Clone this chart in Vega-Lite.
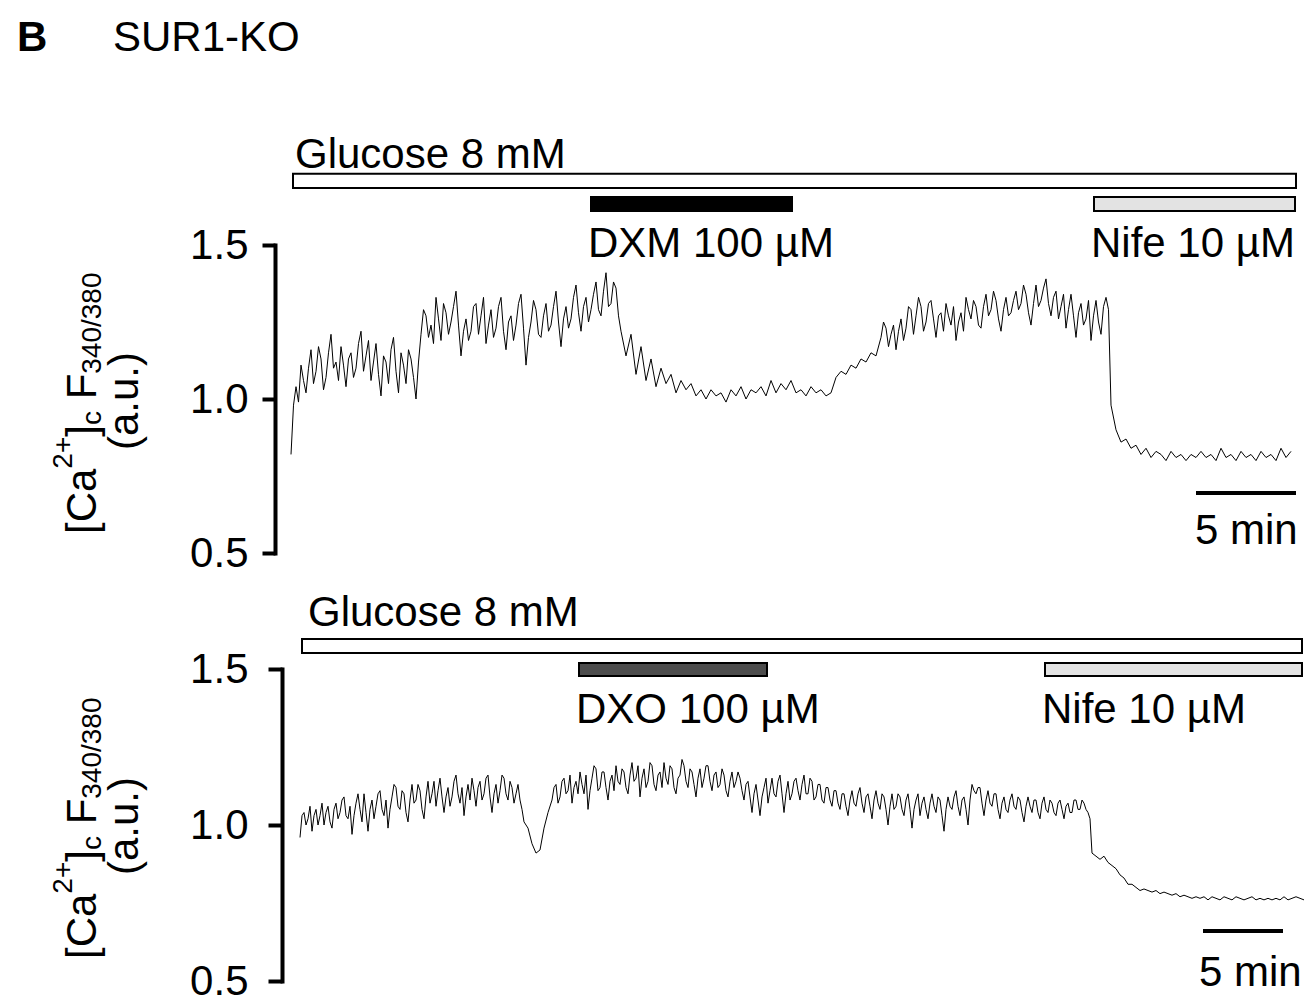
{
"$schema": "https://vega.github.io/schema/vega-lite/v6.json",
"background": "white",
"autosize": {"type": "pad"},
"padding": {"left": 17, "top": 16, "right": 0, "bottom": 0},
"spacing": 18,
"config": {"view": {"stroke": null}, "text": {"font": "Liberation Sans", "fontSize": 42, "fill": "black"},
 "axisY": {"grid": false, "title": null, "domainColor": "black", "domainWidth": 4, "domainCap": "square", "tickColor": "black", "tickWidth": 4, "labelFont": "Liberation Sans", "labelFontSize": 42, "labelColor": "black", "labelFlush": false, "labelOverlap": false}},
"datasets": {
"top_trace": [{"t":0,"v":0.82},{"t":0.125,"v":0.98},{"t":0.25,"v":1.04},{"t":0.375,"v":0.99},{"t":0.5,"v":1.11},{"t":0.625,"v":1.06},{"t":0.75,"v":1.02},{"t":0.875,"v":1.1},{"t":1,"v":1.16},{"t":1.125,"v":1.05},{"t":1.25,"v":1.09},{"t":1.375,"v":1.17},{"t":1.5,"v":1.13},{"t":1.625,"v":1.03},{"t":1.75,"v":1.07},{"t":1.875,"v":1.15},{"t":2,"v":1.21},{"t":2.125,"v":1.1},{"t":2.25,"v":1.12},{"t":2.375,"v":1.06},{"t":2.5,"v":1.17},{"t":2.625,"v":1.11},{"t":2.75,"v":1.04},{"t":2.875,"v":1.13},{"t":3,"v":1.15},{"t":3.125,"v":1.07},{"t":3.25,"v":1.1},{"t":3.375,"v":1.18},{"t":3.5,"v":1.22},{"t":3.625,"v":1.09},{"t":3.75,"v":1.14},{"t":3.875,"v":1.19},{"t":4,"v":1.06},{"t":4.125,"v":1.12},{"t":4.25,"v":1.18},{"t":4.375,"v":1.08},{"t":4.5,"v":1.01},{"t":4.625,"v":1.14},{"t":4.75,"v":1.12},{"t":4.875,"v":1.05},{"t":5,"v":1.16},{"t":5.125,"v":1.2},{"t":5.25,"v":1.09},{"t":5.375,"v":1.02},{"t":5.5,"v":1.15},{"t":5.625,"v":1.11},{"t":5.75,"v":1.05},{"t":5.875,"v":1.16},{"t":6,"v":1.13},{"t":6.125,"v":1.07},{"t":6.25,"v":1.0},{"t":6.375,"v":1.12},{"t":6.5,"v":1.21},{"t":6.625,"v":1.29},{"t":6.75,"v":1.27},{"t":6.875,"v":1.2},{"t":7,"v":1.24},{"t":7.125,"v":1.18},{"t":7.25,"v":1.33},{"t":7.375,"v":1.26},{"t":7.5,"v":1.19},{"t":7.625,"v":1.31},{"t":7.75,"v":1.28},{"t":7.875,"v":1.21},{"t":8,"v":1.25},{"t":8.125,"v":1.3},{"t":8.25,"v":1.35},{"t":8.375,"v":1.24},{"t":8.5,"v":1.14},{"t":8.625,"v":1.22},{"t":8.75,"v":1.26},{"t":8.875,"v":1.19},{"t":9,"v":1.22},{"t":9.125,"v":1.3},{"t":9.25,"v":1.31},{"t":9.375,"v":1.21},{"t":9.5,"v":1.27},{"t":9.625,"v":1.33},{"t":9.75,"v":1.18},{"t":9.875,"v":1.24},{"t":10,"v":1.29},{"t":10.125,"v":1.2},{"t":10.25,"v":1.23},{"t":10.375,"v":1.3},{"t":10.5,"v":1.33},{"t":10.625,"v":1.22},{"t":10.75,"v":1.16},{"t":10.875,"v":1.25},{"t":11,"v":1.27},{"t":11.125,"v":1.19},{"t":11.25,"v":1.24},{"t":11.375,"v":1.31},{"t":11.5,"v":1.34},{"t":11.625,"v":1.23},{"t":11.75,"v":1.11},{"t":11.875,"v":1.2},{"t":12,"v":1.25},{"t":12.125,"v":1.32},{"t":12.25,"v":1.29},{"t":12.375,"v":1.21},{"t":12.5,"v":1.2},{"t":12.625,"v":1.27},{"t":12.75,"v":1.31},{"t":12.875,"v":1.22},{"t":13,"v":1.24},{"t":13.125,"v":1.3},{"t":13.25,"v":1.35},{"t":13.375,"v":1.25},{"t":13.5,"v":1.17},{"t":13.625,"v":1.26},{"t":13.75,"v":1.3},{"t":13.875,"v":1.23},{"t":14,"v":1.26},{"t":14.125,"v":1.33},{"t":14.25,"v":1.37},{"t":14.375,"v":1.28},{"t":14.5,"v":1.22},{"t":14.625,"v":1.3},{"t":14.75,"v":1.33},{"t":14.875,"v":1.25},{"t":15,"v":1.29},{"t":15.125,"v":1.34},{"t":15.25,"v":1.38},{"t":15.375,"v":1.29},{"t":15.5,"v":1.27},{"t":15.625,"v":1.35},{"t":15.75,"v":1.41},{"t":15.875,"v":1.3},{"t":16,"v":1.31},{"t":16.125,"v":1.38},{"t":16.25,"v":1.36},{"t":16.375,"v":1.27},{"t":16.5,"v":1.22},{"t":16.75,"v":1.14},{"t":17,"v":1.21},{"t":17.25,"v":1.08},{"t":17.5,"v":1.17},{"t":17.75,"v":1.06},{"t":18,"v":1.13},{"t":18.25,"v":1.04},{"t":18.5,"v":1.1},{"t":18.75,"v":1.05},{"t":19,"v":1.08},{"t":19.25,"v":1.02},{"t":19.5,"v":1.06},{"t":19.75,"v":1.03},{"t":20,"v":1.05},{"t":20.25,"v":1.01},{"t":20.5,"v":1.03},{"t":20.75,"v":1.0},{"t":21,"v":1.03},{"t":21.25,"v":1.01},{"t":21.5,"v":1.02},{"t":21.75,"v":0.99},{"t":22,"v":1.03},{"t":22.25,"v":1.01},{"t":22.5,"v":1.04},{"t":22.75,"v":1.0},{"t":23,"v":1.03},{"t":23.25,"v":1.02},{"t":23.5,"v":1.04},{"t":23.75,"v":1.01},{"t":24,"v":1.06},{"t":24.25,"v":1.02},{"t":24.5,"v":1.05},{"t":24.75,"v":1.03},{"t":25,"v":1.06},{"t":25.25,"v":1.02},{"t":25.5,"v":1.03},{"t":25.75,"v":1.01},{"t":26,"v":1.04},{"t":26.25,"v":1.02},{"t":26.5,"v":1.03},{"t":26.75,"v":1.01},{"t":27,"v":1.02},{"t":27.25,"v":1.07},{"t":27.5,"v":1.09},{"t":27.75,"v":1.08},{"t":28,"v":1.11},{"t":28.25,"v":1.1},{"t":28.5,"v":1.13},{"t":28.75,"v":1.12},{"t":29,"v":1.15},{"t":29.25,"v":1.14},{"t":29.5,"v":1.2},{"t":29.625,"v":1.25},{"t":29.75,"v":1.23},{"t":29.875,"v":1.17},{"t":30,"v":1.21},{"t":30.125,"v":1.24},{"t":30.25,"v":1.16},{"t":30.375,"v":1.22},{"t":30.5,"v":1.26},{"t":30.625,"v":1.19},{"t":30.75,"v":1.23},{"t":30.875,"v":1.3},{"t":31,"v":1.29},{"t":31.125,"v":1.21},{"t":31.25,"v":1.27},{"t":31.375,"v":1.33},{"t":31.5,"v":1.3},{"t":31.625,"v":1.22},{"t":31.75,"v":1.25},{"t":31.875,"v":1.31},{"t":32,"v":1.32},{"t":32.125,"v":1.26},{"t":32.25,"v":1.2},{"t":32.375,"v":1.27},{"t":32.5,"v":1.28},{"t":32.625,"v":1.22},{"t":32.75,"v":1.31},{"t":32.875,"v":1.27},{"t":33,"v":1.24},{"t":33.125,"v":1.3},{"t":33.25,"v":1.19},{"t":33.375,"v":1.25},{"t":33.5,"v":1.28},{"t":33.625,"v":1.22},{"t":33.75,"v":1.33},{"t":33.875,"v":1.29},{"t":34,"v":1.26},{"t":34.125,"v":1.32},{"t":34.25,"v":1.3},{"t":34.375,"v":1.24},{"t":34.5,"v":1.23},{"t":34.625,"v":1.3},{"t":34.75,"v":1.34},{"t":34.875,"v":1.27},{"t":35,"v":1.29},{"t":35.125,"v":1.35},{"t":35.25,"v":1.32},{"t":35.375,"v":1.26},{"t":35.5,"v":1.22},{"t":35.625,"v":1.29},{"t":35.75,"v":1.33},{"t":35.875,"v":1.27},{"t":36,"v":1.28},{"t":36.125,"v":1.32},{"t":36.25,"v":1.35},{"t":36.375,"v":1.29},{"t":36.5,"v":1.31},{"t":36.625,"v":1.37},{"t":36.75,"v":1.34},{"t":36.875,"v":1.28},{"t":37,"v":1.24},{"t":37.125,"v":1.31},{"t":37.25,"v":1.37},{"t":37.375,"v":1.3},{"t":37.5,"v":1.32},{"t":37.625,"v":1.36},{"t":37.75,"v":1.39},{"t":37.875,"v":1.31},{"t":38,"v":1.27},{"t":38.125,"v":1.33},{"t":38.25,"v":1.35},{"t":38.375,"v":1.26},{"t":38.5,"v":1.3},{"t":38.625,"v":1.34},{"t":38.75,"v":1.23},{"t":38.875,"v":1.29},{"t":39,"v":1.34},{"t":39.125,"v":1.27},{"t":39.25,"v":1.2},{"t":39.375,"v":1.28},{"t":39.5,"v":1.31},{"t":39.625,"v":1.24},{"t":39.75,"v":1.26},{"t":39.875,"v":1.32},{"t":40,"v":1.19},{"t":40.125,"v":1.27},{"t":40.25,"v":1.32},{"t":40.375,"v":1.25},{"t":40.5,"v":1.21},{"t":40.625,"v":1.3},{"t":40.75,"v":1.33},{"t":40.875,"v":1.29},{"t":41,"v":0.98},{"t":41.25,"v":0.9},{"t":41.5,"v":0.86},{"t":41.75,"v":0.87},{"t":42,"v":0.84},{"t":42.25,"v":0.85},{"t":42.5,"v":0.82},{"t":42.75,"v":0.84},{"t":43,"v":0.81},{"t":43.25,"v":0.83},{"t":43.5,"v":0.82},{"t":43.75,"v":0.8},{"t":44,"v":0.83},{"t":44.25,"v":0.81},{"t":44.5,"v":0.82},{"t":44.75,"v":0.8},{"t":45,"v":0.82},{"t":45.25,"v":0.81},{"t":45.5,"v":0.83},{"t":45.75,"v":0.81},{"t":46,"v":0.82},{"t":46.25,"v":0.8},{"t":46.5,"v":0.84},{"t":46.75,"v":0.81},{"t":47,"v":0.82},{"t":47.25,"v":0.8},{"t":47.5,"v":0.83},{"t":47.75,"v":0.81},{"t":48,"v":0.82},{"t":48.25,"v":0.8},{"t":48.5,"v":0.83},{"t":48.75,"v":0.81},{"t":49,"v":0.82},{"t":49.25,"v":0.8},{"t":49.5,"v":0.84},{"t":49.75,"v":0.81},{"t":50,"v":0.83}],
"bottom_trace": [{"t":0,"v":0.96},{"t":0.125,"v":1.03},{"t":0.25,"v":1.04},{"t":0.375,"v":1.0},{"t":0.5,"v":1.02},{"t":0.625,"v":1.06},{"t":0.75,"v":0.98},{"t":0.875,"v":1.03},{"t":1,"v":1.05},{"t":1.125,"v":1.0},{"t":1.25,"v":1.03},{"t":1.375,"v":1.07},{"t":1.5,"v":1.0},{"t":1.625,"v":1.04},{"t":1.75,"v":1.06},{"t":1.875,"v":1.01},{"t":2,"v":0.99},{"t":2.125,"v":1.05},{"t":2.25,"v":1.07},{"t":2.375,"v":1.02},{"t":2.5,"v":1.04},{"t":2.625,"v":1.08},{"t":2.75,"v":1.09},{"t":2.875,"v":1.03},{"t":3,"v":1.02},{"t":3.125,"v":1.06},{"t":3.25,"v":0.97},{"t":3.375,"v":1.03},{"t":3.5,"v":1.07},{"t":3.625,"v":1.1},{"t":3.75,"v":1.05},{"t":3.875,"v":1.01},{"t":4,"v":1.1},{"t":4.125,"v":1.04},{"t":4.25,"v":0.98},{"t":4.375,"v":1.05},{"t":4.5,"v":1.08},{"t":4.625,"v":1.02},{"t":4.75,"v":1.06},{"t":4.875,"v":1.1},{"t":5,"v":1.11},{"t":5.125,"v":1.05},{"t":5.25,"v":1.03},{"t":5.375,"v":1.08},{"t":5.5,"v":0.99},{"t":5.625,"v":1.05},{"t":5.75,"v":1.09},{"t":5.875,"v":1.13},{"t":6,"v":1.12},{"t":6.125,"v":1.06},{"t":6.25,"v":1.05},{"t":6.375,"v":1.11},{"t":6.5,"v":1.1},{"t":6.625,"v":1.04},{"t":6.75,"v":1.01},{"t":6.875,"v":1.08},{"t":7,"v":1.13},{"t":7.125,"v":1.07},{"t":7.25,"v":1.08},{"t":7.375,"v":1.13},{"t":7.5,"v":1.11},{"t":7.625,"v":1.05},{"t":7.75,"v":1.02},{"t":7.875,"v":1.09},{"t":8,"v":1.14},{"t":8.125,"v":1.07},{"t":8.25,"v":1.1},{"t":8.375,"v":1.14},{"t":8.5,"v":1.06},{"t":8.625,"v":1.11},{"t":8.75,"v":1.15},{"t":8.875,"v":1.09},{"t":9,"v":1.04},{"t":9.125,"v":1.09},{"t":9.25,"v":1.12},{"t":9.375,"v":1.06},{"t":9.5,"v":1.09},{"t":9.625,"v":1.14},{"t":9.75,"v":1.16},{"t":9.875,"v":1.1},{"t":10,"v":1.07},{"t":10.125,"v":1.12},{"t":10.25,"v":1.03},{"t":10.375,"v":1.09},{"t":10.5,"v":1.13},{"t":10.625,"v":1.08},{"t":10.75,"v":1.15},{"t":10.875,"v":1.11},{"t":11,"v":1.06},{"t":11.125,"v":1.12},{"t":11.25,"v":1.14},{"t":11.375,"v":1.08},{"t":11.5,"v":1.1},{"t":11.625,"v":1.15},{"t":11.75,"v":1.16},{"t":11.875,"v":1.09},{"t":12,"v":1.04},{"t":12.125,"v":1.1},{"t":12.25,"v":1.13},{"t":12.375,"v":1.07},{"t":12.5,"v":1.11},{"t":12.625,"v":1.16},{"t":12.75,"v":1.15},{"t":12.875,"v":1.1},{"t":13,"v":1.08},{"t":13.125,"v":1.14},{"t":13.25,"v":1.12},{"t":13.375,"v":1.07},{"t":13.5,"v":1.1},{"t":13.625,"v":1.13},{"t":13.75,"v":1.08},{"t":13.875,"v":1.05},{"t":14,"v":1.01},{"t":14.25,"v":0.99},{"t":14.5,"v":0.94},{"t":14.75,"v":0.91},{"t":15,"v":0.92},{"t":15.25,"v":0.99},{"t":15.5,"v":1.04},{"t":15.75,"v":1.08},{"t":15.875,"v":1.12},{"t":16,"v":1.13},{"t":16.125,"v":1.07},{"t":16.25,"v":1.09},{"t":16.375,"v":1.14},{"t":16.5,"v":1.15},{"t":16.625,"v":1.1},{"t":16.75,"v":1.11},{"t":16.875,"v":1.16},{"t":17,"v":1.07},{"t":17.125,"v":1.12},{"t":17.25,"v":1.14},{"t":17.375,"v":1.1},{"t":17.5,"v":1.17},{"t":17.625,"v":1.13},{"t":17.75,"v":1.1},{"t":17.875,"v":1.16},{"t":18,"v":1.05},{"t":18.125,"v":1.11},{"t":18.25,"v":1.15},{"t":18.375,"v":1.19},{"t":18.5,"v":1.18},{"t":18.625,"v":1.11},{"t":18.75,"v":1.12},{"t":18.875,"v":1.17},{"t":19,"v":1.17},{"t":19.125,"v":1.12},{"t":19.25,"v":1.08},{"t":19.375,"v":1.14},{"t":19.5,"v":1.16},{"t":19.625,"v":1.11},{"t":19.75,"v":1.19},{"t":19.875,"v":1.14},{"t":20,"v":1.13},{"t":20.125,"v":1.18},{"t":20.25,"v":1.17},{"t":20.375,"v":1.12},{"t":20.5,"v":1.1},{"t":20.625,"v":1.16},{"t":20.75,"v":1.2},{"t":20.875,"v":1.14},{"t":21,"v":1.15},{"t":21.125,"v":1.19},{"t":21.25,"v":1.09},{"t":21.375,"v":1.15},{"t":21.5,"v":1.18},{"t":21.625,"v":1.12},{"t":21.75,"v":1.14},{"t":21.875,"v":1.2},{"t":22,"v":1.19},{"t":22.125,"v":1.13},{"t":22.25,"v":1.11},{"t":22.375,"v":1.16},{"t":22.5,"v":1.17},{"t":22.625,"v":1.12},{"t":22.75,"v":1.2},{"t":22.875,"v":1.15},{"t":23,"v":1.13},{"t":23.125,"v":1.19},{"t":23.25,"v":1.18},{"t":23.375,"v":1.12},{"t":23.5,"v":1.1},{"t":23.625,"v":1.15},{"t":23.75,"v":1.16},{"t":23.875,"v":1.21},{"t":24,"v":1.19},{"t":24.125,"v":1.14},{"t":24.25,"v":1.12},{"t":24.375,"v":1.18},{"t":24.5,"v":1.17},{"t":24.625,"v":1.13},{"t":24.75,"v":1.09},{"t":24.875,"v":1.15},{"t":25,"v":1.18},{"t":25.125,"v":1.12},{"t":25.25,"v":1.15},{"t":25.375,"v":1.19},{"t":25.5,"v":1.19},{"t":25.625,"v":1.14},{"t":25.75,"v":1.11},{"t":25.875,"v":1.16},{"t":26,"v":1.17},{"t":26.125,"v":1.12},{"t":26.25,"v":1.13},{"t":26.375,"v":1.18},{"t":26.5,"v":1.16},{"t":26.625,"v":1.11},{"t":26.75,"v":1.09},{"t":26.875,"v":1.14},{"t":27,"v":1.17},{"t":27.125,"v":1.12},{"t":27.25,"v":1.14},{"t":27.375,"v":1.17},{"t":27.5,"v":1.15},{"t":27.625,"v":1.11},{"t":27.75,"v":1.08},{"t":27.875,"v":1.13},{"t":28,"v":1.14},{"t":28.125,"v":1.09},{"t":28.25,"v":1.04},{"t":28.375,"v":1.1},{"t":28.5,"v":1.13},{"t":28.625,"v":1.08},{"t":28.75,"v":1.03},{"t":28.875,"v":1.09},{"t":29,"v":1.12},{"t":29.125,"v":1.15},{"t":29.25,"v":1.07},{"t":29.375,"v":1.11},{"t":29.5,"v":1.15},{"t":29.625,"v":1.1},{"t":29.75,"v":1.09},{"t":29.875,"v":1.14},{"t":30,"v":1.16},{"t":30.125,"v":1.1},{"t":30.25,"v":1.04},{"t":30.375,"v":1.1},{"t":30.5,"v":1.14},{"t":30.625,"v":1.08},{"t":30.75,"v":1.1},{"t":30.875,"v":1.14},{"t":31,"v":1.15},{"t":31.125,"v":1.11},{"t":31.25,"v":1.08},{"t":31.375,"v":1.13},{"t":31.5,"v":1.16},{"t":31.625,"v":1.1},{"t":31.75,"v":1.1},{"t":31.875,"v":1.15},{"t":32,"v":1.14},{"t":32.125,"v":1.08},{"t":32.25,"v":1.09},{"t":32.375,"v":1.13},{"t":32.5,"v":1.13},{"t":32.625,"v":1.08},{"t":32.75,"v":1.07},{"t":32.875,"v":1.12},{"t":33,"v":1.12},{"t":33.125,"v":1.08},{"t":33.25,"v":1.06},{"t":33.375,"v":1.11},{"t":33.5,"v":1.11},{"t":33.625,"v":1.07},{"t":33.75,"v":1.05},{"t":33.875,"v":1.1},{"t":34,"v":1.1},{"t":34.125,"v":1.06},{"t":34.25,"v":1.03},{"t":34.375,"v":1.08},{"t":34.5,"v":1.11},{"t":34.625,"v":1.07},{"t":34.75,"v":1.06},{"t":34.875,"v":1.1},{"t":35,"v":1.12},{"t":35.125,"v":1.07},{"t":35.25,"v":1.04},{"t":35.375,"v":1.09},{"t":35.5,"v":1.1},{"t":35.625,"v":1.06},{"t":35.75,"v":1.02},{"t":35.875,"v":1.08},{"t":36,"v":1.11},{"t":36.125,"v":1.07},{"t":36.25,"v":1.05},{"t":36.375,"v":1.1},{"t":36.5,"v":1.09},{"t":36.625,"v":1.05},{"t":36.75,"v":1.0},{"t":36.875,"v":1.06},{"t":37,"v":1.1},{"t":37.125,"v":1.05},{"t":37.25,"v":1.06},{"t":37.375,"v":1.1},{"t":37.5,"v":1.09},{"t":37.625,"v":1.05},{"t":37.75,"v":1.03},{"t":37.875,"v":1.08},{"t":38,"v":1.1},{"t":38.125,"v":1.05},{"t":38.25,"v":0.99},{"t":38.375,"v":1.05},{"t":38.5,"v":1.08},{"t":38.625,"v":1.1},{"t":38.75,"v":1.03},{"t":38.875,"v":1.07},{"t":39,"v":1.09},{"t":39.125,"v":1.05},{"t":39.25,"v":1.02},{"t":39.375,"v":1.07},{"t":39.5,"v":1.1},{"t":39.625,"v":1.06},{"t":39.75,"v":1.04},{"t":39.875,"v":1.09},{"t":40,"v":1.08},{"t":40.125,"v":1.03},{"t":40.25,"v":0.98},{"t":40.375,"v":1.05},{"t":40.5,"v":1.09},{"t":40.625,"v":1.06},{"t":40.75,"v":1.05},{"t":40.875,"v":1.09},{"t":41,"v":1.11},{"t":41.125,"v":1.06},{"t":41.25,"v":1.03},{"t":41.375,"v":1.08},{"t":41.5,"v":1.09},{"t":41.625,"v":1.05},{"t":41.75,"v":1.0},{"t":41.875,"v":1.08},{"t":42,"v":1.13},{"t":42.125,"v":1.11},{"t":42.25,"v":1.1},{"t":42.375,"v":1.12},{"t":42.5,"v":1.12},{"t":42.625,"v":1.07},{"t":42.75,"v":1.03},{"t":42.875,"v":1.08},{"t":43,"v":1.11},{"t":43.125,"v":1.07},{"t":43.25,"v":1.06},{"t":43.375,"v":1.1},{"t":43.5,"v":1.1},{"t":43.625,"v":1.05},{"t":43.75,"v":1.02},{"t":43.875,"v":1.07},{"t":44,"v":1.09},{"t":44.125,"v":1.05},{"t":44.25,"v":1.04},{"t":44.375,"v":1.08},{"t":44.5,"v":1.1},{"t":44.625,"v":1.06},{"t":44.75,"v":1.05},{"t":44.875,"v":1.09},{"t":45,"v":1.08},{"t":45.125,"v":1.04},{"t":45.25,"v":1.01},{"t":45.375,"v":1.06},{"t":45.5,"v":1.09},{"t":45.625,"v":1.06},{"t":45.75,"v":1.04},{"t":45.875,"v":1.08},{"t":46,"v":1.08},{"t":46.125,"v":1.04},{"t":46.25,"v":1.02},{"t":46.375,"v":1.07},{"t":46.5,"v":1.09},{"t":46.625,"v":1.05},{"t":46.75,"v":1.04},{"t":46.875,"v":1.08},{"t":47,"v":1.07},{"t":47.125,"v":1.04},{"t":47.25,"v":1.03},{"t":47.375,"v":1.07},{"t":47.5,"v":1.08},{"t":47.625,"v":1.05},{"t":47.75,"v":1.02},{"t":47.875,"v":1.06},{"t":48,"v":1.07},{"t":48.125,"v":1.04},{"t":48.25,"v":1.04},{"t":48.375,"v":1.08},{"t":48.5,"v":1.08},{"t":48.625,"v":1.05},{"t":48.75,"v":1.05},{"t":48.875,"v":1.08},{"t":49,"v":1.07},{"t":49.125,"v":1.05},{"t":49.25,"v":1.04},{"t":49.375,"v":1.02},{"t":49.5,"v":0.91},{"t":49.75,"v":0.9},{"t":50,"v":0.89},{"t":50.25,"v":0.9},{"t":50.5,"v":0.88},{"t":50.75,"v":0.87},{"t":51,"v":0.86},{"t":51.25,"v":0.84},{"t":51.5,"v":0.83},{"t":51.75,"v":0.81},{"t":52,"v":0.81},{"t":52.25,"v":0.8},{"t":52.5,"v":0.79},{"t":52.75,"v":0.795},{"t":53,"v":0.79},{"t":53.25,"v":0.785},{"t":53.5,"v":0.79},{"t":53.75,"v":0.78},{"t":54,"v":0.785},{"t":54.25,"v":0.78},{"t":54.5,"v":0.775},{"t":54.75,"v":0.78},{"t":55,"v":0.77},{"t":55.25,"v":0.775},{"t":55.5,"v":0.77},{"t":55.75,"v":0.765},{"t":56,"v":0.77},{"t":56.25,"v":0.765},{"t":56.5,"v":0.77},{"t":56.75,"v":0.76},{"t":57,"v":0.77},{"t":57.25,"v":0.765},{"t":57.5,"v":0.76},{"t":57.75,"v":0.77},{"t":58,"v":0.765},{"t":58.25,"v":0.76},{"t":58.5,"v":0.77},{"t":58.75,"v":0.765},{"t":59,"v":0.76},{"t":59.25,"v":0.765},{"t":59.5,"v":0.77},{"t":59.75,"v":0.76},{"t":60,"v":0.765},{"t":60.25,"v":0.76},{"t":60.5,"v":0.765},{"t":60.75,"v":0.76},{"t":61,"v":0.765},{"t":61.25,"v":0.76},{"t":61.5,"v":0.77},{"t":61.75,"v":0.76},{"t":62,"v":0.765},{"t":62.25,"v":0.77},{"t":62.5,"v":0.765},{"t":62.75,"v":0.76}],
"top_glucose": [{"agent": "Glucose 8 mM", "start": 0.1, "end": 50.25}],
"top_drugs": [{"agent": "DXM 100 µM", "start": 15.0, "end": 25.05}, {"agent": "Nife 10 µM", "start": 40.15, "end": 50.2}],
"top_scale": [{"label": "5 min", "start": 45.25, "end": 50.25}],
"bottom_glucose": [{"agent": "Glucose 8 mM", "start": 0.125, "end": 62.625}],
"bottom_drugs": [{"agent": "DXO 100 µM", "start": 17.4375, "end": 29.1875}, {"agent": "Nife 10 µM", "start": 46.5625, "end": 62.625}],
"bottom_scale": [{"label": "5 min", "start": 56.4375, "end": 61.4375}],
"heading": [{"panel": "B", "genotype": "SUR1-KO"}],
"ylabel": [{"measure": "[Ca2+]c F340/380", "unit": "(a.u.)"}]
},
"vconcat": [
{
"width": 1006, "height": 308,
"layer": [
{"data": {"name": "top_trace"}, "mark": {"type": "line", "stroke": "black", "strokeWidth": 1},
 "encoding": {
  "x": {"field": "t", "type": "quantitative", "scale": {"domain": [0, 50.3], "nice": false, "zero": false}, "axis": null},
  "y": {"field": "v", "type": "quantitative", "scale": {"domain": [0.5, 1.5], "nice": false, "zero": false},
   "axis": {"values": [0.5, 1, 1.5], "format": ".1f", "title": null, "tickSize": 13, "offset": 16, "labelPadding": 14}}}},
{"data": {"name": "top_glucose"}, "mark": {"type": "rect", "fill": "white", "stroke": "black", "strokeWidth": 2},
 "encoding": {"x": {"field": "start", "type": "quantitative", "axis": null}, "x2": {"field": "end"}, "y": {"datum": 1.731}, "y2": {"datum": 1.685}}},
{"data": {"name": "top_glucose"}, "mark": {"type": "text", "align": "left", "baseline": "alphabetic", "dx": 2},
 "encoding": {"x": {"field": "start", "type": "quantitative", "axis": null}, "y": {"datum": 1.75}, "text": {"field": "agent"}}},
{"data": {"name": "top_drugs"}, "mark": {"type": "rect", "stroke": "black", "strokeWidth": 2},
 "encoding": {"x": {"field": "start", "type": "quantitative", "axis": null}, "x2": {"field": "end"}, "y": {"datum": 1.656}, "y2": {"datum": 1.61},
  "fill": {"field": "agent", "type": "nominal", "scale": {"domain": ["DXM 100 µM", "Nife 10 µM", "DXO 100 µM"], "range": ["#000000", "#e3e3e3", "#4d4d4d"]}, "legend": null}}},
{"data": {"name": "top_drugs"}, "mark": {"type": "text", "align": "left", "baseline": "alphabetic", "dx": -3},
 "encoding": {"x": {"field": "start", "type": "quantitative", "axis": null}, "y": {"datum": 1.461}, "text": {"field": "agent"}}},
{"data": {"name": "top_scale"}, "mark": {"type": "rule", "stroke": "black", "strokeWidth": 4},
 "encoding": {"x": {"field": "start", "type": "quantitative", "axis": null}, "x2": {"field": "end"}, "y": {"datum": 0.6948}}},
{"data": {"name": "top_scale"}, "mark": {"type": "text", "align": "left", "baseline": "alphabetic", "dx": -1},
 "encoding": {"x": {"field": "start", "type": "quantitative", "axis": null}, "y": {"datum": 0.5292}, "text": {"field": "label"}}},
{"data": {"name": "heading"}, "mark": {"type": "text", "align": "left", "baseline": "alphabetic", "fontWeight": "bold"},
 "encoding": {"x": {"datum": -13.7, "axis": null}, "y": {"datum": 2.13}, "text": {"field": "panel"}}},
{"data": {"name": "heading"}, "mark": {"type": "text", "align": "left", "baseline": "alphabetic"},
 "encoding": {"x": {"datum": -8.9, "axis": null}, "y": {"datum": 2.13}, "text": {"field": "genotype"}}},
{"data": {"name": "ylabel"}, "mark": {"type": "text", "align": "left", "baseline": "alphabetic", "angle": 270, "text": "[Ca", "fontSize": 42, "dx": 0},
 "encoding": {"x": {"datum": -9.75, "axis": null}, "y": {"datum": 0.5617}}},
{"data": {"name": "ylabel"}, "mark": {"type": "text", "align": "left", "baseline": "alphabetic", "angle": 270, "text": "2+", "fontSize": 28, "dx": 65.35, "dy": -24},
 "encoding": {"x": {"datum": -9.75, "axis": null}, "y": {"datum": 0.5617}}},
{"data": {"name": "ylabel"}, "mark": {"type": "text", "align": "left", "baseline": "alphabetic", "angle": 270, "text": "]", "fontSize": 42, "dx": 97.27},
 "encoding": {"x": {"datum": -9.75, "axis": null}, "y": {"datum": 0.5617}}},
{"data": {"name": "ylabel"}, "mark": {"type": "text", "align": "left", "baseline": "alphabetic", "angle": 270, "text": "c", "fontSize": 28, "dx": 108.95, "dy": 5},
 "encoding": {"x": {"datum": -9.75, "axis": null}, "y": {"datum": 0.5617}}},
{"data": {"name": "ylabel"}, "mark": {"type": "text", "align": "left", "baseline": "alphabetic", "angle": 270, "text": "F", "fontSize": 42, "dx": 134.63},
 "encoding": {"x": {"datum": -9.75, "axis": null}, "y": {"datum": 0.5617}}},
{"data": {"name": "ylabel"}, "mark": {"type": "text", "align": "left", "baseline": "alphabetic", "angle": 270, "text": "340/380", "fontSize": 28, "dx": 160.29, "dy": 5},
 "encoding": {"x": {"datum": -9.75, "axis": null}, "y": {"datum": 0.5617}}},
{"data": {"name": "ylabel"}, "mark": {"type": "text", "align": "center", "baseline": "alphabetic", "angle": 270, "fontSize": 42},
 "encoding": {"x": {"datum": -7.65, "axis": null}, "y": {"datum": 0.9935}, "text": {"field": "unit"}}}
]
},
{
"width": 1006, "height": 312,
"layer": [
{"data": {"name": "bottom_trace"}, "mark": {"type": "line", "stroke": "black", "strokeWidth": 1},
 "encoding": {
  "x": {"field": "t", "type": "quantitative", "scale": {"domain": [-0.5625, 62.3125], "nice": false, "zero": false}, "axis": null},
  "y": {"field": "v", "type": "quantitative", "scale": {"domain": [0.5, 1.5], "nice": false, "zero": false},
   "axis": {"values": [0.5, 1, 1.5], "format": ".1f", "title": null, "tickSize": 14, "offset": 9, "labelPadding": 20}}}},
{"data": {"name": "bottom_glucose"}, "mark": {"type": "rect", "fill": "white", "stroke": "black", "strokeWidth": 2},
 "encoding": {"x": {"field": "start", "type": "quantitative", "axis": null}, "x2": {"field": "end"}, "y": {"datum": 1.5962}, "y2": {"datum": 1.5513}}},
{"data": {"name": "bottom_glucose"}, "mark": {"type": "text", "align": "left", "baseline": "alphabetic", "dx": 6},
 "encoding": {"x": {"field": "start", "type": "quantitative", "axis": null}, "y": {"datum": 1.6378}, "text": {"field": "agent"}}},
{"data": {"name": "bottom_drugs"}, "mark": {"type": "rect", "stroke": "black", "strokeWidth": 2},
 "encoding": {"x": {"field": "start", "type": "quantitative", "axis": null}, "x2": {"field": "end"}, "y": {"datum": 1.5192}, "y2": {"datum": 1.4776},
  "fill": {"field": "agent", "type": "nominal", "scale": {"domain": ["DXM 100 µM", "Nife 10 µM", "DXO 100 µM"], "range": ["#000000", "#e3e3e3", "#4d4d4d"]}, "legend": null}}},
{"data": {"name": "bottom_drugs"}, "mark": {"type": "text", "align": "left", "baseline": "alphabetic", "dx": -3},
 "encoding": {"x": {"field": "start", "type": "quantitative", "axis": null}, "y": {"datum": 1.3269}, "text": {"field": "agent"}}},
{"data": {"name": "bottom_scale"}, "mark": {"type": "rule", "stroke": "black", "strokeWidth": 4},
 "encoding": {"x": {"field": "start", "type": "quantitative", "axis": null}, "x2": {"field": "end"}, "y": {"datum": 0.6603}}},
{"data": {"name": "bottom_scale"}, "mark": {"type": "text", "align": "left", "baseline": "alphabetic", "dx": -4},
 "encoding": {"x": {"field": "start", "type": "quantitative", "axis": null}, "y": {"datum": 0.484}, "text": {"field": "label"}}},
{"data": {"name": "ylabel"}, "mark": {"type": "text", "align": "left", "baseline": "alphabetic", "angle": 270, "text": "[Ca", "fontSize": 42, "dx": 0},
 "encoding": {"x": {"datum": -12.75, "axis": null}, "y": {"datum": 0.5705}}},
{"data": {"name": "ylabel"}, "mark": {"type": "text", "align": "left", "baseline": "alphabetic", "angle": 270, "text": "2+", "fontSize": 28, "dx": 65.35, "dy": -24},
 "encoding": {"x": {"datum": -12.75, "axis": null}, "y": {"datum": 0.5705}}},
{"data": {"name": "ylabel"}, "mark": {"type": "text", "align": "left", "baseline": "alphabetic", "angle": 270, "text": "]", "fontSize": 42, "dx": 97.27},
 "encoding": {"x": {"datum": -12.75, "axis": null}, "y": {"datum": 0.5705}}},
{"data": {"name": "ylabel"}, "mark": {"type": "text", "align": "left", "baseline": "alphabetic", "angle": 270, "text": "c", "fontSize": 28, "dx": 108.95, "dy": 5},
 "encoding": {"x": {"datum": -12.75, "axis": null}, "y": {"datum": 0.5705}}},
{"data": {"name": "ylabel"}, "mark": {"type": "text", "align": "left", "baseline": "alphabetic", "angle": 270, "text": "F", "fontSize": 42, "dx": 134.63},
 "encoding": {"x": {"datum": -12.75, "axis": null}, "y": {"datum": 0.5705}}},
{"data": {"name": "ylabel"}, "mark": {"type": "text", "align": "left", "baseline": "alphabetic", "angle": 270, "text": "340/380", "fontSize": 28, "dx": 160.29, "dy": 5},
 "encoding": {"x": {"datum": -12.75, "axis": null}, "y": {"datum": 0.5705}}},
{"data": {"name": "ylabel"}, "mark": {"type": "text", "align": "center", "baseline": "alphabetic", "angle": 270, "fontSize": 42},
 "encoding": {"x": {"datum": -10.125, "axis": null}, "y": {"datum": 0.9968}, "text": {"field": "unit"}}}
]
}
]
}
